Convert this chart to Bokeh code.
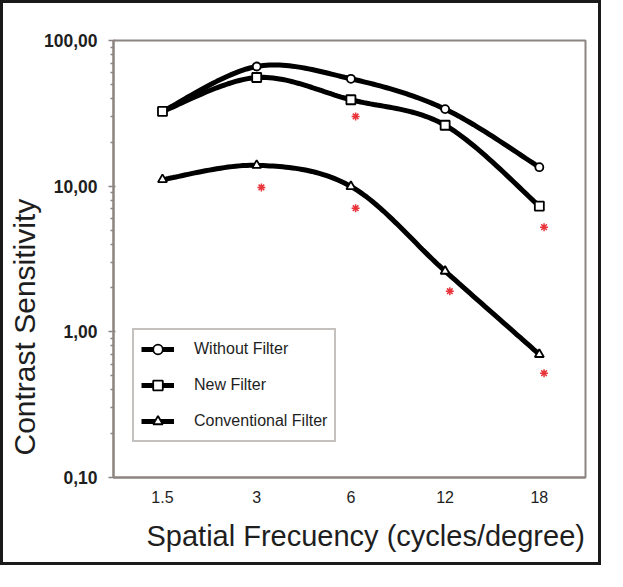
import numpy as np
from bokeh.plotting import figure
from bokeh.models import Range1d, FixedTicker, Legend, LegendItem, Title
from bokeh.embed import file_html
from bokeh.resources import INLINE

# ---- data ----
freq_labels = ["1.5", "3", "6", "12", "18"]
without_filter = [32.6, 66.3, 54.6, 33.8, 13.5]
new_filter = [32.6, 55.7, 39.2, 26.2, 7.3]
conventional_filter = [11.1, 13.9, 9.95, 2.61, 0.70]
# red asterisks (significance marks)
star_idx = [1, 2, 2, 3, 4, 4]
star_vals = [9.8, 30.1, 7.06, 1.90, 5.23, 0.52]
y_ticks = [0.1, 1, 10, 100]
y_tick_labels = ["0,10", "1,00", "10,00", "100,00"]
x_title = "Spatial Frecuency (cycles/degree)"
y_title = "Contrast Sensitivity"

FONT = "Liberation Sans"
GRAY = "#8c8480"
TXT = "#1e1e1e"
W, H = 601, 565

xs = list(range(len(freq_labels)))


def smooth(xv, yv, n=30):
    """Catmull-Rom smoothing in (x, log10 y) space for drawing the line."""
    lx = np.array(xv, float)
    ly = np.log10(np.array(yv, float))
    px = np.concatenate([[lx[0]], lx, [lx[-1]]])
    py = np.concatenate([[ly[0]], ly, [ly[-1]]])
    ox, oy = [], []
    for i in range(1, len(px) - 2):
        p0x, p1x, p2x, p3x = px[i - 1], px[i], px[i + 1], px[i + 2]
        p0y, p1y, p2y, p3y = py[i - 1], py[i], py[i + 1], py[i + 2]
        c1x, c1y = p1x + (p2x - p0x) / 6, p1y + (p2y - p0y) / 6
        c2x, c2y = p2x - (p3x - p1x) / 6, p2y - (p3y - p1y) / 6
        t = np.linspace(0, 1, n)
        bx = (1 - t) ** 3 * p1x + 3 * (1 - t) ** 2 * t * c1x + 3 * (1 - t) * t ** 2 * c2x + t ** 3 * p2x
        by = (1 - t) ** 3 * p1y + 3 * (1 - t) ** 2 * t * c1y + 3 * (1 - t) * t ** 2 * c2y + t ** 3 * p2y
        ox.extend(bx.tolist())
        oy.extend(by.tolist())
    return ox, (10 ** np.array(oy)).tolist()


p = figure(width=W, height=H, y_axis_type="log",
           x_range=Range1d(-0.52, 4.49), y_range=Range1d(0.1, 100),
           output_backend="svg", toolbar_location=None,
           min_border_left=110, min_border_right=19,
           min_border_top=37, min_border_bottom=91)
p.styles = {"border": "3px solid #1a1a1a"}
p.background_fill_color = "white"
p.border_fill_color = "white"
p.grid.visible = False
p.outline_line_color = GRAY
p.outline_line_width = 2

# x axis
p.xaxis.ticker = FixedTicker(ticks=xs)
p.xaxis.major_label_overrides = {i: lab for i, lab in enumerate(freq_labels)}
p.xaxis.major_tick_out = 0
p.xaxis.major_tick_in = 0
p.xaxis.minor_tick_out = 0
p.xaxis.axis_line_color = GRAY
p.xaxis.axis_line_width = 2
p.xaxis.major_label_text_font = FONT
p.xaxis.major_label_text_font_size = "16px"
p.xaxis.major_label_text_color = TXT
p.xaxis.major_label_standoff = 13

# y axis
minor = [m * d for d in [0.1, 1, 10] for m in range(2, 10)]
p.yaxis.ticker = FixedTicker(ticks=y_ticks, minor_ticks=minor)
p.yaxis.major_label_overrides = {t: lab for t, lab in zip(y_ticks, y_tick_labels)}
p.yaxis.axis_line_color = GRAY
p.yaxis.axis_line_width = 2
p.yaxis.major_tick_line_color = GRAY
p.yaxis.minor_tick_line_color = GRAY
p.yaxis.major_tick_line_width = 1.5
p.yaxis.minor_tick_line_width = 1.5
p.yaxis.major_tick_out = 5
p.yaxis.major_tick_in = 2
p.yaxis.minor_tick_out = 3
p.yaxis.minor_tick_in = 0
p.yaxis.major_label_text_font = FONT
p.yaxis.major_label_text_font_size = "17.5px"
p.yaxis.major_label_text_font_style = "bold"
p.yaxis.major_label_text_color = TXT
p.yaxis.major_label_standoff = 11

# axis titles as side titles, offset from the frame start as in the original
p.add_layout(Title(text=x_title, align="left", offset=33, standoff=28,
                   vertical_align="top", text_font=FONT,
                   text_font_size="29px", text_font_style="normal",
                   text_color=TXT), "below")
p.add_layout(Title(text=y_title, align="left", offset=22, standoff=0,
                   vertical_align="bottom", text_font=FONT,
                   text_font_size="30px", text_font_style="normal",
                   text_color=TXT), "left")

items = []
series = [
    ("Without Filter", without_filter, "circle", 8),
    ("New Filter", new_filter, "square", 9),
    ("Conventional Filter", conventional_filter, "triangle", 9),
]
for name, vals, mk, sz in series:
    sx, sy = smooth(xs, vals)
    r1 = p.line(sx, sy, line_color="black", line_width=5)
    r2 = p.scatter(xs, vals, marker=mk, size=sz, fill_color="white",
                   line_color="black", line_width=1.8)
    items.append(LegendItem(label=name, renderers=[r1, r2]))

star_x = [i + 0.05 for i in star_idx]
p.scatter(star_x, star_vals, marker="asterisk", size=8,
          line_color="#e8343a", line_width=1.5)

legend = Legend(items=items, location=(19, 35))
legend.label_text_font = FONT
legend.label_text_font_size = "16px"
legend.label_text_color = TXT
legend.glyph_width = 33
legend.glyph_height = 24
legend.spacing = 12
legend.padding = 7
legend.margin = 0
legend.label_standoff = 20
legend.border_line_color = GRAY
legend.border_line_width = 2
legend.background_fill_alpha = 1
p.add_layout(legend, "center")

open("out.html", "w").write(file_html(p, INLINE))
